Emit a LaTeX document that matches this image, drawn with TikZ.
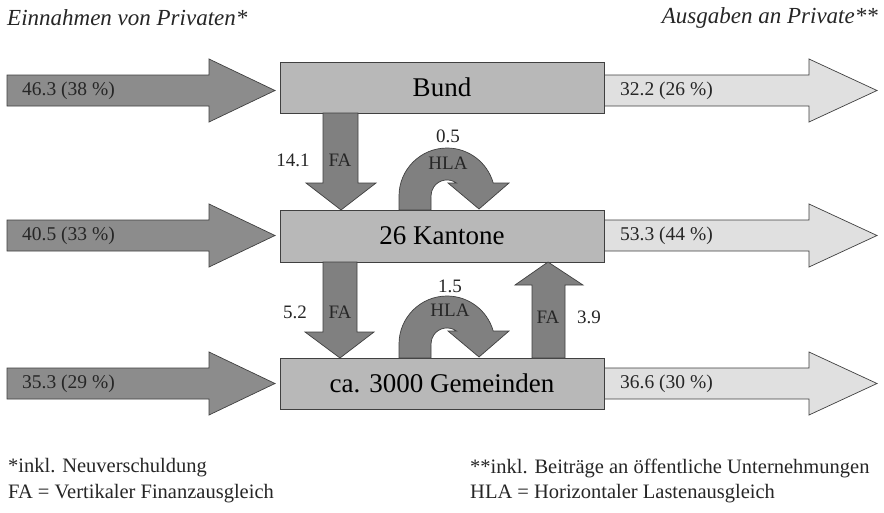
\documentclass[tikz,border=0pt]{standalone}
\usepackage{fontspec}
\setmainfont{Liberation Serif}
\begin{document}
\begin{tikzpicture}[x=1pt,y=-1pt,
  outl/.style={draw=black!75,line width=0.7pt,line join=miter},
  inarrow/.style={outl,fill=black!45},
  outarrow/.style={outl,fill=black!12},
  flowarrow/.style={outl,fill=black!50},
  levelbox/.style={outl,fill=black!28,rectangle,minimum width=324pt,inner sep=0pt,font=\fontsize{27}{31}\selectfont},
  alabel/.style={font=\fontsize{19.5}{22}\selectfont,inner sep=0pt,anchor=west,text=black!85},
  vlabel/.style={font=\fontsize{19}{22}\selectfont,inner sep=0pt,text=black!85},
  note/.style={font=\fontsize{20.5}{23}\selectfont,inner sep=0pt,anchor=west,text=black!85},
  head/.style={font=\itshape\fontsize{23}{26}\selectfont,inner sep=0pt,text=black!85}]
\useasboundingbox (0,0) rectangle (884,512);
\fill[white] (0,0) rectangle (884,512);

% headers
\node[head,anchor=west] (hl) at (7,18) {Einnahmen von Privaten*};
\node[head,anchor=east] (hr) at (878,18) {Ausgaben an Private**};

% horizontal arrows: left (income)
\foreach \c/\t [count=\i] in {90.5/46.3 (38 \%), 235.5/40.5 (33 \%), 383.5/35.3 (29 \%)}{
  \draw[inarrow] (7,\c-15.5) -- (209,\c-15.5) -- (209,\c-31.5) -- (275,\c) -- (209,\c+31.5) -- (209,\c+15.5) -- (7,\c+15.5) -- cycle;
  \node[alabel] (in\i) at (22,\c) {\t};
}
% right arrows (expenses)
\foreach \c/\t [count=\i] in {90.5/32.2 (26 \%), 235.5/53.3 (44 \%), 383.5/36.6 (30 \%)}{
  \draw[outarrow] (604,\c-15.5) -- (809,\c-15.5) -- (809,\c-31.5) -- (877,\c) -- (809,\c+31.5) -- (809,\c+15.5) -- (604,\c+15.5) -- cycle;
  \node[alabel] (out\i) at (620,\c) {\t};
}

% level boxes
\node[levelbox,minimum height=51pt] (bund) at (442,87.5) {Bund};
\node[levelbox,minimum height=52pt] (kant) at (442,236) {26 Kantone};
\node[levelbox,minimum height=51pt] (gem) at (442,383.5) {ca. 3000 Gemeinden};

% vertical FA arrows down
\draw[flowarrow] (323,113) -- (358,113) -- (358,183) -- (376,183) -- (341,210) -- (306,183) -- (323,183) -- cycle;
\draw[flowarrow] (323,262) -- (357,262) -- (357,332) -- (374,332) -- (340,358) -- (305,332) -- (323,332) -- cycle;
% FA up arrow
\draw[flowarrow] (532,358) -- (565,358) -- (565,285) -- (583,285) -- (548,262) -- (515,285) -- (532,285) -- cycle;

% HLA U-turn arrows
\foreach \b in {210,358}{
  \draw[flowarrow] (399,\b) -- (399,\b-14) arc[start angle=180,end angle=15.7,radius=48pt]
     -- (509,\b-27) -- (479,\b-1) -- (448,\b-27) -- (456.4,\b-27)
     arc[start angle=54,end angle=180,radius=16pt] -- (431,\b) -- cycle;
}

% flow labels
\node[vlabel] (l141) at (293,160) {14.1};
\node[vlabel] (fa1) at (340,160) {FA};
\node[vlabel] (l05) at (448,136) {0.5};
\node[vlabel] (hla1) at (448,163) {HLA};
\node[vlabel] (l52) at (295,312) {5.2};
\node[vlabel] (fa2) at (340,312) {FA};
\node[vlabel] (l15) at (450,286) {1.5};
\node[vlabel] (hla2) at (450,310) {HLA};
\node[vlabel] (fa3) at (548,317) {FA};
\node[vlabel] (l39) at (589,317) {3.9};

% footnotes
\node[note] (n1) at (8,468) {*inkl. Neuverschuldung};
\node[note] (n2) at (8,494) {FA = Vertikaler Finanzausgleich};
\node[note] (n3) at (470,468) {**inkl. Beiträge an öffentliche Unternehmungen};
\node[note] (n4) at (470,494) {HLA = Horizontaler Lastenausgleich};
\end{tikzpicture}
\end{document}
